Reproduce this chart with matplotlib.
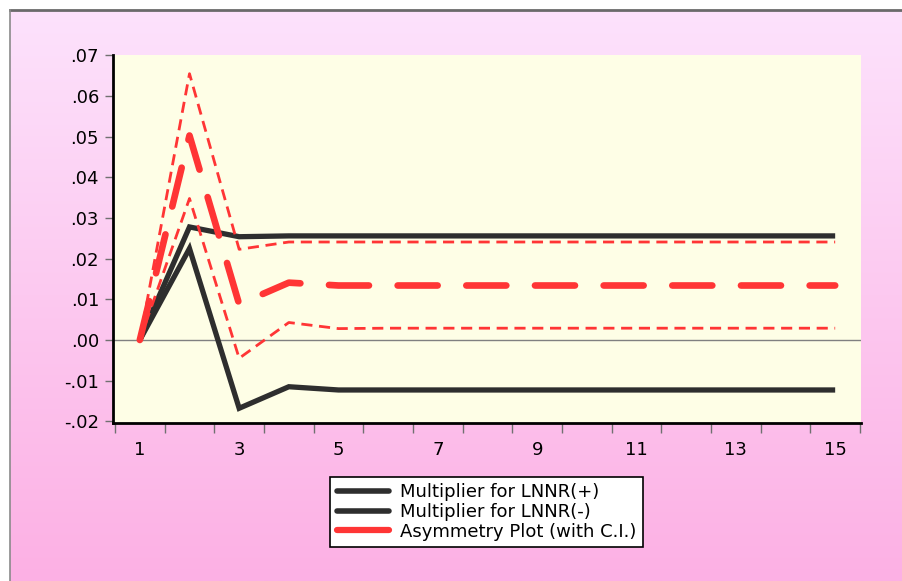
import numpy as np
import matplotlib
matplotlib.use("Agg")
import matplotlib.pyplot as plt
from matplotlib.lines import Line2D
from matplotlib.ticker import FixedLocator

periods = list(range(1, 16))
mult_pos = [0.0, 0.0278, 0.0254, 0.0256, 0.0256, 0.0256, 0.0256, 0.0256,
            0.0256, 0.0256, 0.0256, 0.0256, 0.0256, 0.0256, 0.0256]
mult_neg = [0.0, 0.0225, -0.0168, -0.0115, -0.0123, -0.0123, -0.0123, -0.0123,
            -0.0123, -0.0123, -0.0123, -0.0123, -0.0123, -0.0123, -0.0123]
asym = [0.0, 0.0503, 0.0088, 0.0141, 0.0134, 0.0134, 0.0134, 0.0134,
        0.0134, 0.0134, 0.0134, 0.0134, 0.0134, 0.0134, 0.0134]
ci_upper = [0.0, 0.0655, 0.0223, 0.0241, 0.0241, 0.0241, 0.0241, 0.0241,
            0.0241, 0.0241, 0.0241, 0.0241, 0.0241, 0.0241, 0.0241]
ci_lower = [0.0, 0.0348, -0.0045, 0.0043, 0.0028, 0.0029, 0.0029, 0.0029,
            0.0029, 0.0029, 0.0029, 0.0029, 0.0029, 0.0029, 0.0029]
ytick_vals = [-0.02, -0.01, 0.0, 0.01, 0.02, 0.03, 0.04, 0.05, 0.06, 0.07]
ytick_labels = ['-.02', '-.01', '.00', '.01', '.02', '.03', '.04', '.05', '.06', '.07']
xtick_vals = [1, 3, 5, 7, 9, 11, 13, 15]
legend_labels = ['Multiplier for LNNR(+)', 'Multiplier for LNNR(-)', 'Asymmetry Plot (with C.I.)']

plt.rcParams['font.family'] = ['DejaVu Sans']

W, H = 903, 581
fig = plt.figure(figsize=(W / 100, H / 100), dpi=100, facecolor='white')

# background gradient panel
x0 = 10 / W
ytop = 1 - 10 / H
bg = fig.add_axes([x0, 0, 1 - x0, ytop], zorder=0)
top = np.array([253, 226, 252]) / 255
bot = np.array([252, 176, 228]) / 255
t = np.linspace(0, 1, 512)[:, None]
grad = top[None, :] * (1 - t) + bot[None, :] * t
bg.imshow(grad[:, None, :], aspect='auto', extent=[0, 1, 0, 1], origin='upper',
          interpolation='bilinear')
bg.set_xlim(0, 1)
bg.set_ylim(0, 1)
bg.axis('off')
fig.add_artist(Line2D([x0, 1], [ytop, ytop], color='#6a6a6a', lw=2.0, transform=fig.transFigure, zorder=5))
fig.add_artist(Line2D([x0, x0], [0, ytop], color='#8a8a8a', lw=1.2, transform=fig.transFigure, zorder=5))

left, right = 113 / W, 861 / W
bottom, topp = 1 - 422.5 / H, 1 - 55 / H
ax = fig.add_axes([left, bottom, right - left, topp - bottom], zorder=1)
ax.set_facecolor('#fefee6')

ax.axhline(0, color='#808080', lw=1.0, zorder=1)

blk = '#2e2e2e'
ax.plot(periods, mult_pos, color=blk, lw=3.8, solid_capstyle='butt', solid_joinstyle='miter', zorder=2)
ax.plot(periods, mult_neg, color=blk, lw=3.8, solid_capstyle='butt', solid_joinstyle='miter', zorder=2)

red = '#ff3535'
ax.plot(periods, ci_upper, color=red, lw=2.0, dashes=(4.0, 2.4), zorder=3)
ax.plot(periods, ci_lower, color=red, lw=2.0, dashes=(4.0, 2.4), zorder=3)
ax.plot(periods, asym, color=red, lw=4.8, dashes=(6.0, 4.3), dash_capstyle='round', zorder=3)

ax.set_xlim(0.46, 15.52)
ax.set_ylim(-0.0203, 0.0701)

for s in ['top', 'right']:
    ax.spines[s].set_visible(False)
for s in ['left', 'bottom']:
    ax.spines[s].set_color('black')
    ax.spines[s].set_linewidth(2.0)

ax.set_yticks(ytick_vals)
ax.set_yticklabels(ytick_labels)
ax.tick_params(axis='y', which='major', direction='out', length=6, width=1, color='#707070',
               labelsize=13, pad=4)

ax.xaxis.set_major_locator(FixedLocator(xtick_vals))
ax.set_xticklabels([str(v) for v in xtick_vals])
ax.xaxis.set_minor_locator(FixedLocator(np.arange(0.5, 15.6, 1.0)))
ax.tick_params(axis='x', which='major', length=0, labelsize=13, pad=13)
ax.tick_params(axis='x', which='minor', direction='out', length=7, width=1, color='#707070')

handles = [Line2D([], [], color=blk, lw=4.0, solid_capstyle='round'),
           Line2D([], [], color=blk, lw=4.0, solid_capstyle='round'),
           Line2D([], [], color=red, lw=4.5, solid_capstyle='round')]
leg = fig.legend(handles, legend_labels, loc='center',
                 bbox_to_anchor=((328 + 645) / 2 / W, 1 - 512 / H),
                 fontsize=13, frameon=True, fancybox=False, framealpha=1,
                 edgecolor='black', facecolor='white', handlelength=2.9,
                 handletextpad=0.6, labelspacing=0.1, borderpad=0.35,
                 borderaxespad=0)
leg.get_frame().set_linewidth(1.2)
leg.set_zorder(10)

fig.savefig('out.png', dpi=100, facecolor=fig.get_facecolor())
